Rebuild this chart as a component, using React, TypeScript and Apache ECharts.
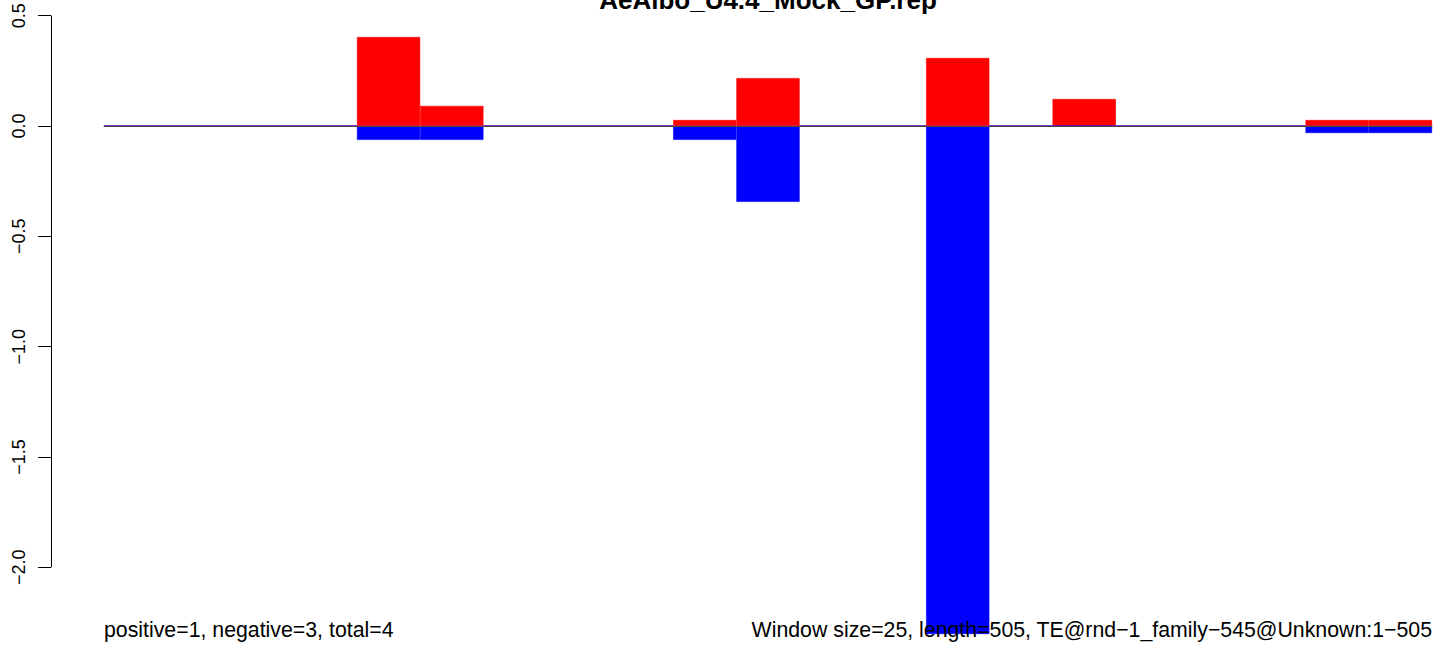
import React, { useEffect, useRef } from 'react';
import * as echarts from 'echarts';

const TITLE = 'AeAlbo_U4.4_Mock_GP.rep';
const FOOT_LEFT = 'positive=1, negative=3, total=4';
const FOOT_RIGHT = 'Window size=25, length=505, TE@rnd\u22121_family\u2212545@Unknown:1\u2212505';

const windows = ['1', '26', '51', '76', '101', '126', '151', '176', '201', '226', '251', '276', '301', '326', '351', '376', '401', '426', '451', '476', '501'];
const positive = [0, 0, 0, 0, 0.403, 0.091, 0, 0, 0, 0.027, 0.217, 0, 0, 0.308, 0, 0.122, 0, 0, 0, 0.027, 0.027];
const negative = [0, 0, 0, 0, -0.063, -0.063, 0, 0, 0, -0.063, -0.344, 0, 0, -2.302, 0, 0, 0, 0, 0, -0.032, -0.032];
const yTicks = [-2, -1.5, -1, -0.5, 0, 0.5];
const Y_MIN = -2.35;
const Y_MAX = 0.55;

const FONT = '"Liberation Sans", Arial, Helvetica, sans-serif';
const GRID_LEFT = 104;
const AXIS_OFFSET = 53;

const fmt = (v: number) => (v < 0 ? '\u2212' : '') + Math.abs(v).toFixed(1);

export default function App() {
  const ref = useRef<HTMLDivElement>(null);
  useEffect(() => {
    if (!ref.current) return;
    const chart = echarts.init(ref.current, undefined, { renderer: 'svg' });
    chart.setOption({
      animation: false,
      backgroundColor: '#ffffff',
      grid: { left: GRID_LEFT, right: 12, top: 4.6, bottom: 11.4, containLabel: false },
      xAxis: {
        type: 'category',
        data: windows,
        boundaryGap: true,
        axisLine: { show: true, onZero: true, lineStyle: { color: '#444', width: 1 } },
        axisTick: { show: false },
        axisLabel: { show: false },
        splitLine: { show: false },
        z: 5,
      },
      yAxis: {
        type: 'value',
        min: Y_MIN,
        max: Y_MAX,
        offset: AXIS_OFFSET,
        axisLine: { show: false },
        splitLine: { show: false },
        axisTick: {
          show: true,
          length: 13,
          customValues: yTicks,
          lineStyle: { color: '#000', width: 1 },
        },
        axisLabel: {
          show: true,
          rotate: 90,
          margin: 23,
          customValues: yTicks,
          formatter: (v: number) => fmt(v),
          fontFamily: FONT,
          fontSize: 18,
          color: '#000',
        },
      },
      series: [
        {
          type: 'bar',
          data: positive,
          barWidth: '100%',
          barGap: '-100%',
          barCategoryGap: 0,
          itemStyle: { color: '#ff0000', borderColor: '#ff0000', borderWidth: 0.6 },
          silent: true,
        },
        {
          type: 'bar',
          data: negative,
          barWidth: '100%',
          barGap: '-100%',
          barCategoryGap: 0,
          itemStyle: { color: '#0000ff', borderColor: '#0000ff', borderWidth: 0.6 },
          silent: true,
        },
      ],
    });
    const yTop = chart.convertToPixel({ yAxisIndex: 0 }, yTicks[yTicks.length - 1]) as number;
    const yBot = chart.convertToPixel({ yAxisIndex: 0 }, yTicks[0]) as number;
    const xLeft = chart.convertToPixel({ xAxisIndex: 0 }, windows[0]) as number;
    const xRight = chart.convertToPixel({ xAxisIndex: 0 }, windows[windows.length - 1]) as number;
    const half = (xRight - xLeft) / (windows.length - 1) / 2;
    const plotL = xLeft - half;
    const plotR = xRight + half;
    const axisX = GRID_LEFT - AXIS_OFFSET + 0.5;
    chart.setOption({
      graphic: [
        {
          type: 'line',
          z: 50,
          shape: { x1: axisX, y1: yTop, x2: axisX, y2: yBot },
          style: { stroke: '#000', lineWidth: 1 },
        },
        {
          type: 'text',
          z: 100,
          x: (plotL + plotR) / 2,
          y: 0,
          style: {
            text: TITLE,
            fill: '#000',
            font: `bold 26px ${FONT}`,
            textAlign: 'center',
            textVerticalAlign: 'middle',
          },
        },
        {
          type: 'text',
          z: 100,
          x: plotL,
          y: 630,
          style: {
            text: FOOT_LEFT,
            fill: '#000',
            font: `21.3px ${FONT}`,
            textAlign: 'left',
            textVerticalAlign: 'middle',
          },
        },
        {
          type: 'text',
          z: 100,
          x: plotR,
          y: 630,
          style: {
            text: FOOT_RIGHT,
            fill: '#000',
            font: `21.3px ${FONT}`,
            textAlign: 'right',
            textVerticalAlign: 'middle',
          },
        },
      ],
    });
    return () => chart.dispose();
  }, []);
  return (
    <div
      ref={ref}
      style={{ position: 'absolute', left: 0, top: 0, width: 1444, height: 656, background: '#fff' }}
    />
  );
}
